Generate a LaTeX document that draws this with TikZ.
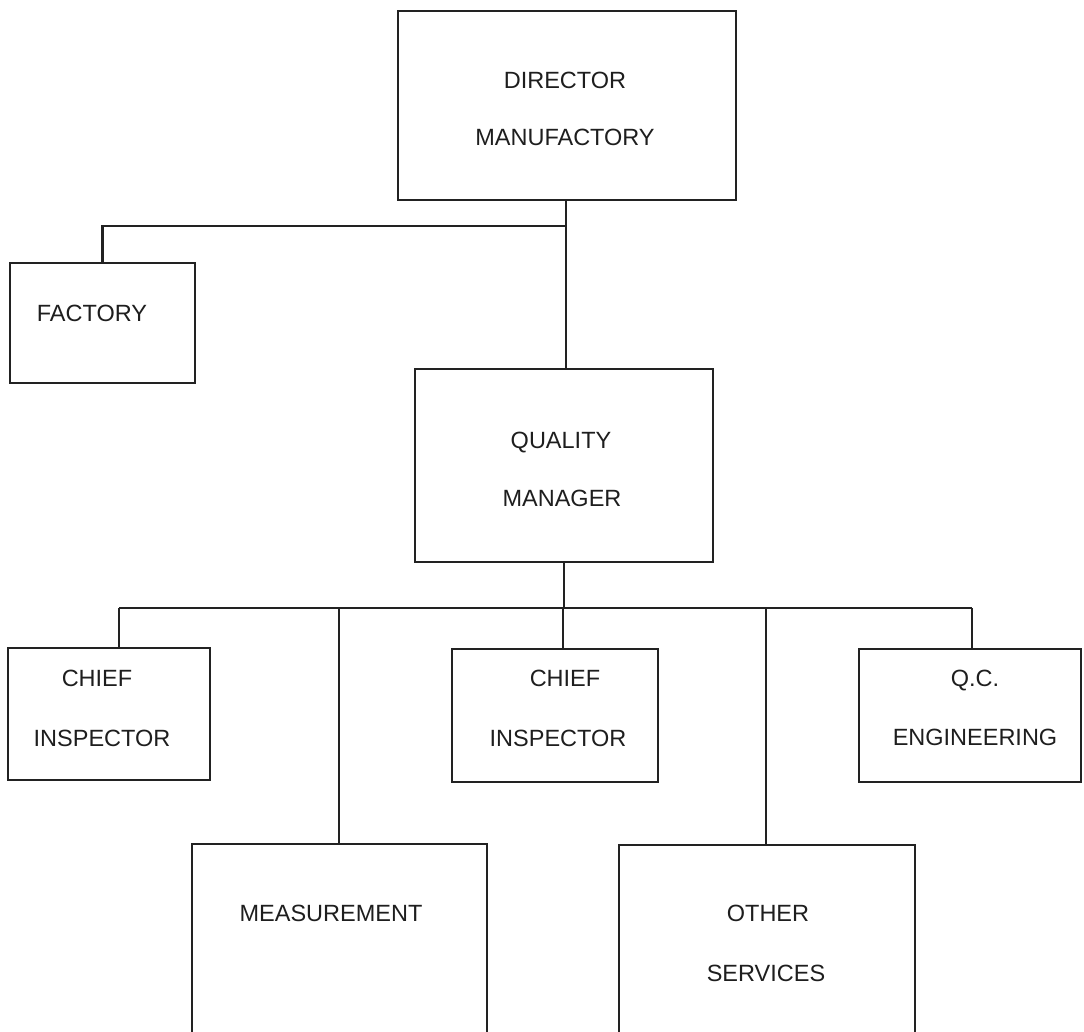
\documentclass[tikz,border=0pt]{standalone}
\usepackage{fontspec}
\setmainfont{Liberation Sans}
\begin{document}
\begin{tikzpicture}[x=1pt,y=-1pt,
  ink/.style={draw={rgb,255:red,34;green,34;blue,34}, line width=2.9pt},
  unit/.style={ink, rectangle, inner sep=0pt, anchor=center},
  wire/.style={ink, line width=2.6pt},
  lbl/.style={inner sep=0pt, anchor=center, text={rgb,255:red,30;green,30;blue,30},
    font=\fontsize{23.5}{27}\selectfont, text height=16.8pt, text depth=0pt}]
\useasboundingbox (0,0) rectangle (1084,1032);
\clip (0,0) rectangle (1084,1032);
\fill[white] (0,0) rectangle (1084,1032);

% boxes
\node[unit, minimum width=338pt, minimum height=189pt] (dir)  at (567,105.5) {};
\node[unit, minimum width=185pt, minimum height=120pt] (fac)  at (102.5,323) {};
\node[unit, minimum width=298pt, minimum height=193pt] (qm)   at (564,465.5) {};
\node[unit, minimum width=202pt, minimum height=132pt] (ci1)  at (109,714) {};
\node[unit, minimum width=206pt, minimum height=133pt] (ci2)  at (555,715.5) {};
\node[unit, minimum width=222pt, minimum height=133pt] (qc)   at (970,715.5) {};
\node[unit, minimum width=295pt, minimum height=216pt] (meas) at (339.5,952) {};
\node[unit, minimum width=296pt, minimum height=215pt] (oth)  at (767,952.5) {};

% labels
\node[lbl] (dirA) at (565,80)  {DIRECTOR};
\node[lbl] (dirB) at (565,137) {MANUFACTORY};
\node[lbl] (facA) at (92,313)  {FACTORY};
\node[lbl] (qmA)  at (561,440) {QUALITY};
\node[lbl] (qmB)  at (562,498) {MANAGER};
\node[lbl] (c1A)  at (97,678)  {CHIEF};
\node[lbl] (c1B)  at (102,738) {INSPECTOR};
\node[lbl] (c2A)  at (565,678) {CHIEF};
\node[lbl] (c2B)  at (558,738) {INSPECTOR};
\node[lbl] (qcA)  at (975,678) {Q.C.};
\node[lbl] (qcB)  at (975,737) {ENGINEERING};
\node[lbl] (msA)  at (331,913) {MEASUREMENT};
\node[lbl] (otA)  at (768,913) {OTHER};
\node[lbl] (otB)  at (766,973) {SERVICES};

% junctions of the tree
\coordinate (ja) at (566,226);
\coordinate (jb) at (564,608);
\coordinate (t1) at (119,608);
\coordinate (t2) at (339,608);
\coordinate (t3) at (563,608);
\coordinate (t4) at (766,608);
\coordinate (t5) at (972,608);

% director to quality manager, with the factory branch
\draw[wire] (dir.south -| ja) -- (qm.north -| ja);
\draw[wire] (ja) -| (fac.north);

% quality manager to its departments
\draw[wire] (qm.south -| jb) -- (jb);
\draw[wire] (t1) -- (t5);
\draw[wire] (t1) -- (t1 |- ci1.north);
\draw[wire] (t2) -- (t2 |- meas.north);
\draw[wire] (t3) -- (t3 |- ci2.north);
\draw[wire] (t4) -- (t4 |- oth.north);
\draw[wire] (t5) -- (t5 |- qc.north);
\end{tikzpicture}
\end{document}
